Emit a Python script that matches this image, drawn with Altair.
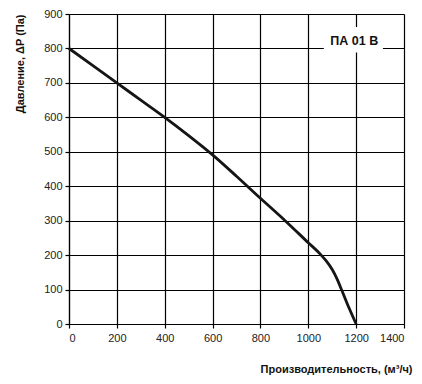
import altair as alt
import pandas as pd

flow = [0, 100, 200, 300, 400, 500, 600, 700, 800, 900, 1000, 1050, 1075, 1100, 1120, 1140, 1170, 1200]
pressure = [800, 750, 700, 650, 600, 547, 491, 429, 365, 302, 236, 203, 183, 158, 131, 98, 47, 0]

x_ticks = [0, 200, 400, 600, 800, 1000, 1200, 1400]
y_ticks = [0, 100, 200, 300, 400, 500, 600, 700, 800, 900]

label_text = ["ПА 01 В"]
label_x = [1192]
label_y = [822]
box_x = [1065]
box_x2 = [1312]
box_y = [788]
box_y2 = [862]

FONT = "Liberation Sans"

curve_df = pd.DataFrame({"q": flow, "p": pressure})
box_df = pd.DataFrame({"x": box_x, "x2": box_x2, "y": box_y, "y2": box_y2})
label_df = pd.DataFrame({"t": label_text, "x": label_x, "y": label_y})

xscale = alt.Scale(domain=[0, 1400], nice=False)
yscale = alt.Scale(domain=[0, 900], nice=False)

xaxis = alt.Axis(
    values=x_ticks, format="d", grid=True, gridColor="black", gridWidth=1.2, gridOpacity=1,
    domainColor="black", domainWidth=1.2, tickColor="black", tickSize=4, tickWidth=1.2,
    labelFont=FONT, labelFontSize=11, labelColor="#222", labelPadding=4, labelOverlap=False,
    title="Производительность, (м³/ч)", titleFont=FONT, titleFontSize=11,
    titleFontWeight="bold", titleColor="#111", titleAlign="right",
    titleX=343, titleY=45, titleBaseline="middle",
)
yaxis = alt.Axis(
    values=y_ticks, format="d", grid=True, gridColor="black", gridWidth=1.2, gridOpacity=1,
    domainColor="black", domainWidth=1.2, tickColor="black", tickSize=4, tickWidth=1.2,
    labelFont=FONT, labelFontSize=11, labelColor="#222", labelPadding=3, labelOverlap=False,
    title="Давление, ΔP (Па)", titleFont=FONT, titleFontSize=11,
    titleFontWeight="bold", titleColor="#111", titleAlign="right", titleAngle=-90,
    titleX=-49, titleY=0, titleBaseline="middle",
)

curve = alt.Chart(curve_df).mark_line(
    color="#151515", strokeWidth=2.8, interpolate="monotone"
).encode(
    x=alt.X("q:Q", scale=xscale, axis=xaxis),
    y=alt.Y("p:Q", scale=yscale, axis=yaxis),
)

box = alt.Chart(box_df).mark_rect(color="white", opacity=1).encode(
    x=alt.X("x:Q", scale=xscale, axis=xaxis), x2="x2:Q",
    y=alt.Y("y:Q", scale=yscale, axis=yaxis), y2="y2:Q",
)

label = alt.Chart(label_df).mark_text(
    font=FONT, fontSize=12.5, fontWeight="bold", color="#111", baseline="middle", align="center"
).encode(
    x=alt.X("x:Q", scale=xscale, axis=xaxis),
    y=alt.Y("y:Q", scale=yscale, axis=yaxis),
    text="t:N",
)

chart = alt.layer(curve, box, label).properties(
    width=335, height=310,
    autosize=alt.AutoSizeParams(type="none"),
    padding={"left": 61, "top": 6, "right": 10, "bottom": 52},
).configure_view(stroke="black", strokeWidth=1.2).configure(background="white")

chart.save("out.html", embed_options={"renderer": "svg", "actions": False})
